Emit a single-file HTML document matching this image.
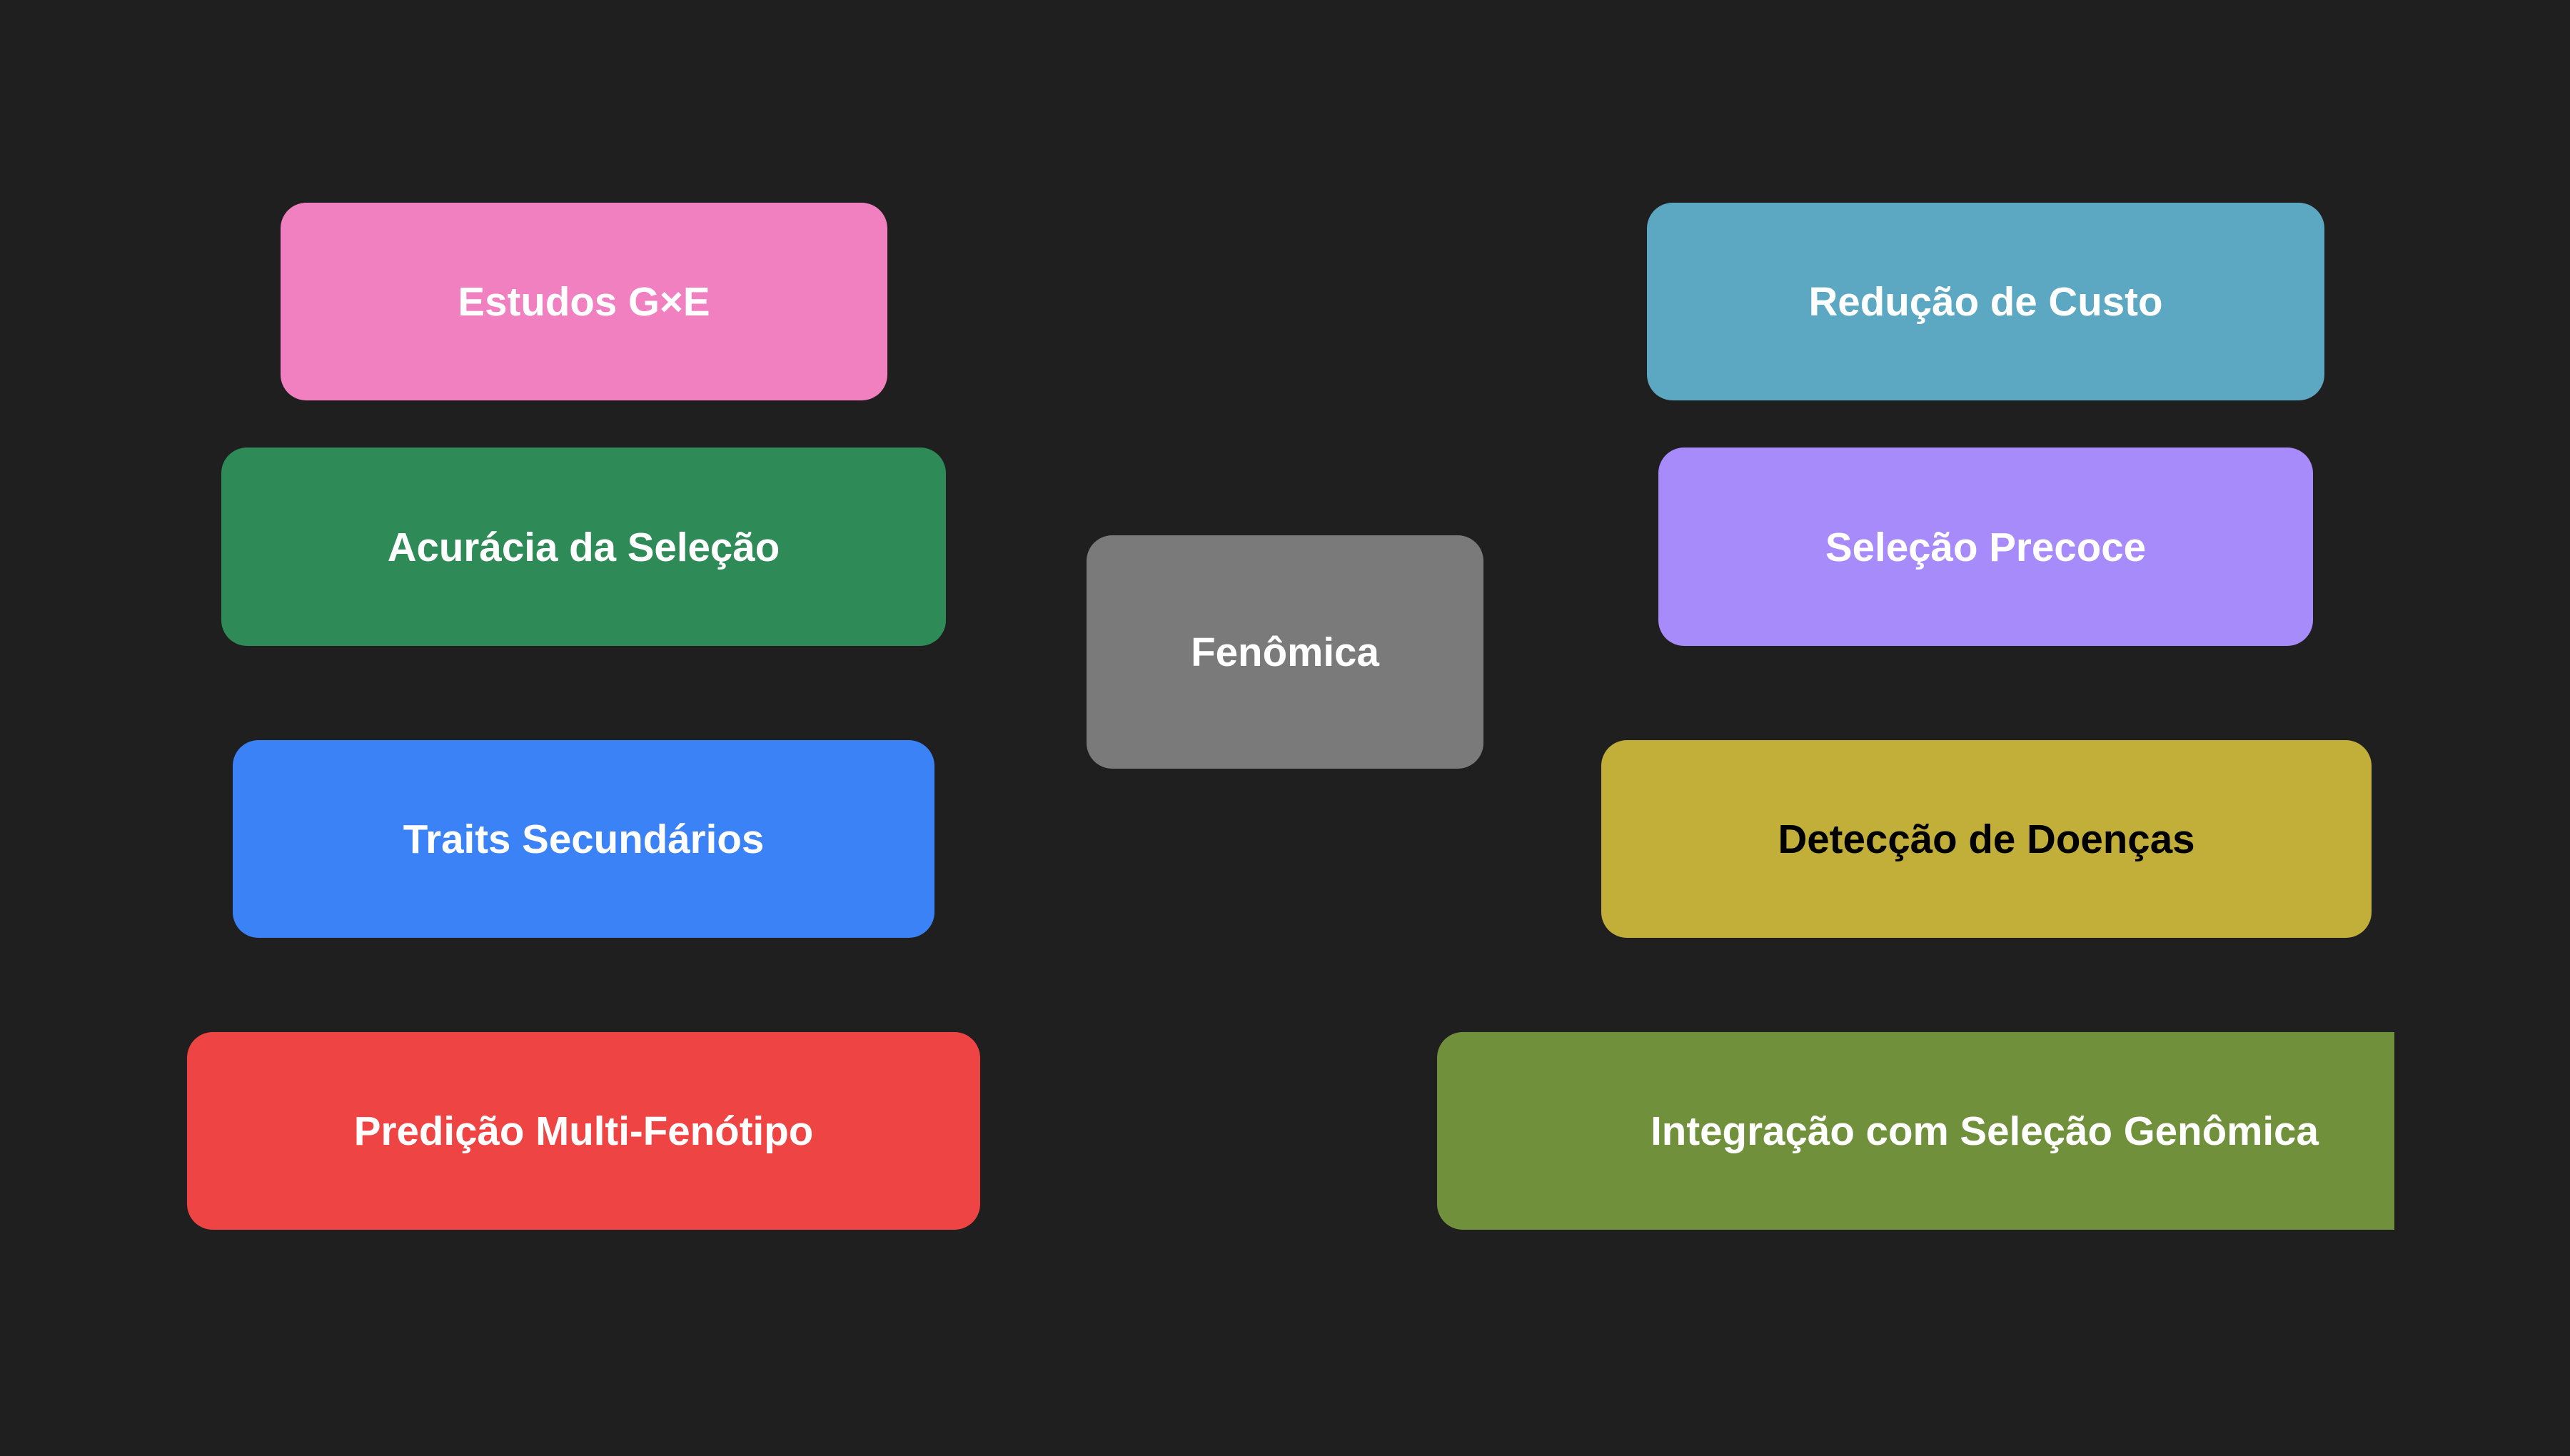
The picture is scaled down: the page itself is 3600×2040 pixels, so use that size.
<!DOCTYPE html>
<html><head><meta charset="utf-8"><style>
html,body{margin:0;padding:0;background:#1f1f1f;}
body{width:3600px;height:2040px;position:relative;overflow:hidden;font-family:"Liberation Sans",Arial,sans-serif;}
.b{position:absolute;border-radius:36px;display:flex;align-items:center;justify-content:center;color:#fff;font-weight:bold;font-size:56.5px;white-space:nowrap;}
</style></head><body>
<div class="b" style="left:393px;top:284px;width:850px;height:277px;background:#f180c0;">Estudos G×E</div>
<div class="b" style="left:310px;top:627px;width:1015px;height:278px;background:#2e8a57;">Acurácia da Seleção</div>
<div class="b" style="left:326px;top:1037px;width:983px;height:277px;background:#3b82f6;">Traits Secundários</div>
<div class="b" style="left:262px;top:1446px;width:1111px;height:277px;background:#ef4444;">Predição Multi-Fenótipo</div>
<div class="b" style="left:1522px;top:750px;width:556px;height:327px;background:#7a7a7a;">Fenômica</div>
<div class="b" style="left:2307px;top:284px;width:949px;height:277px;background:#5ca7c2;">Redução de Custo</div>
<div class="b" style="left:2323px;top:627px;width:917px;height:278px;background:#a78bfa;">Seleção Precoce</div>
<div class="b" style="left:2243px;top:1037px;width:1079px;height:277px;background:#c1af3a;color:#000;">Detecção de Doenças</div>
<div style="position:absolute;left:2013px;top:1446px;width:1341px;height:277px;overflow:hidden;">
<div class="b" style="left:0;top:0;width:1534px;height:277px;background:#71903b;">Integração com Seleção Genômica</div>
</div>
</body></html>
